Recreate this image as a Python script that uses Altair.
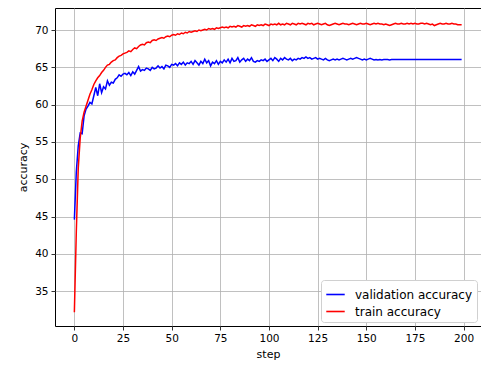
import altair as alt
import pandas as pd

steps = list(range(200))

validation = [
    44.6, 51.0, 54.5, 56.2, 56.1, 58.5, 59.4, 59.8, 60.3, 60.1,
    61.2, 62.3, 61.2, 62.8, 61.6, 62.4, 62.1, 63.2, 62.6, 63.0,
    62.9, 63.4, 63.6, 64.0, 63.8, 64.1, 64.2, 64.0, 64.3, 63.9,
    64.4, 64.1, 64.6, 65.1, 64.5, 64.7, 64.6, 64.9, 64.8, 64.6,
    65.0, 64.8, 64.9, 65.2, 64.9, 65.1, 64.8, 65.3, 65.2, 65.0,
    65.4, 65.3, 65.5, 65.2, 65.6, 65.4, 65.7, 65.3, 65.6, 65.5,
    65.8, 65.4, 65.9, 65.6, 65.3, 65.8, 65.5, 66.1, 65.6, 65.9,
    65.2, 65.7, 65.5, 65.9, 65.4, 65.8, 65.6, 66.0, 65.7, 66.1,
    65.6, 66.2, 65.8, 65.9, 66.3, 65.7, 66.0, 66.2, 65.8, 66.1,
    65.9, 66.3, 65.8, 65.7, 65.9, 65.8, 66.0, 65.9, 66.1, 65.8,
    66.0, 66.2, 65.9, 66.3, 66.1, 65.8, 66.2, 66.0, 66.3, 66.1,
    66.0, 66.2, 65.9, 66.1, 66.0, 66.2, 66.1, 66.3, 66.2, 66.4,
    66.2, 66.3, 66.1, 66.2, 66.3, 66.1, 66.2, 66.1, 66.0, 66.2,
    66.0, 65.9, 66.0, 66.1, 66.0, 66.1, 66.0, 66.1, 66.2, 66.1,
    66.0, 66.1, 66.2, 66.1, 66.2, 66.3, 66.2, 66.1, 66.0, 66.1,
    66.0, 66.1, 66.2, 66.1, 66.0, 66.05, 66.0, 66.05, 66.0, 66.05,
    66.05, 66.05, 66.0, 66.05, 66.05, 66.05, 66.05, 66.05, 66.05, 66.05,
    66.05, 66.05, 66.05, 66.05, 66.05, 66.05, 66.05, 66.05, 66.05, 66.05,
    66.05, 66.05, 66.05, 66.05, 66.05, 66.05, 66.05, 66.05, 66.05, 66.05,
    66.05, 66.05, 66.05, 66.05, 66.05, 66.05, 66.05, 66.05, 66.05, 66.05,
]

train = [
    32.2, 43.0, 51.5, 55.5, 57.8, 59.0, 59.8, 60.6, 61.4, 62.0,
    62.7, 63.2, 63.6, 63.9, 64.3, 64.6, 65.0, 65.3, 65.4, 65.7,
    65.9, 66.0, 66.3, 66.5, 66.6, 66.8, 66.9, 67.0, 67.2, 67.1,
    67.4, 67.6, 67.5, 67.8, 68.0, 68.1, 68.0, 68.3, 68.4, 68.3,
    68.6, 68.7, 68.6, 68.8, 68.9, 69.0, 68.9, 69.1, 69.2, 69.1,
    69.3, 69.4, 69.3, 69.5, 69.4, 69.6, 69.5, 69.7, 69.6, 69.8,
    69.7, 69.8, 69.9, 69.8, 70.0, 69.9, 70.0, 70.1, 70.0, 70.2,
    70.1, 70.2, 70.1, 70.3, 70.2, 70.3, 70.4, 70.3, 70.4, 70.3,
    70.5, 70.4, 70.5, 70.4, 70.6, 70.5, 70.4, 70.6, 70.5, 70.6,
    70.5, 70.7, 70.6, 70.5, 70.7, 70.6, 70.7, 70.6, 70.8, 70.7,
    70.6, 70.8, 70.7, 70.8, 70.7, 70.9, 70.7, 70.8, 70.7, 70.9,
    70.8, 70.7, 70.9, 70.8, 70.7, 70.9, 70.8, 70.9, 70.8, 70.7,
    70.9, 70.8, 70.9, 70.7, 70.8, 70.9, 70.8, 70.7, 70.8, 70.9,
    70.7, 70.6, 70.7, 70.8, 70.9, 70.8, 70.7, 70.8, 70.9, 70.8,
    70.8, 70.7, 70.8, 70.9, 70.8, 70.7, 70.8, 70.9, 70.8, 70.8,
    70.9, 70.8, 70.7, 70.8, 70.9, 70.8, 70.9, 70.8, 70.8, 70.7,
    70.8, 70.7, 70.6, 70.7, 70.8, 70.9, 70.8, 70.8, 70.9, 70.8,
    70.8, 70.9, 70.8, 70.9, 70.8, 70.9, 70.8, 70.8, 70.9, 70.9,
    70.8, 70.9, 70.8, 70.7, 70.8, 70.6, 70.7, 70.8, 70.9, 70.8,
    70.8, 70.9, 70.8, 70.8, 70.9, 70.8, 70.8, 70.7, 70.7, 70.7,
]

series_names = ["validation accuracy", "train accuracy"]
series_colors = ["#0000ff", "#ff0000"]
x_ticks = [0, 25, 50, 75, 100, 125, 150, 175, 200]
y_ticks = [35, 40, 45, 50, 55, 60, 65, 70]

df = pd.concat([
    pd.DataFrame({"step": steps, "accuracy": validation, "series": series_names[0]}),
    pd.DataFrame({"step": steps, "accuracy": train, "series": series_names[1]}),
])

font = "DejaVu Sans"

chart = alt.Chart(df).mark_line(strokeWidth=1.5).encode(
    x=alt.X("step:Q", title="step",
            scale=alt.Scale(domain=[-9.95, 208.95], nice=False, zero=False),
            axis=alt.Axis(values=x_ticks, format="d")),
    y=alt.Y("accuracy:Q", title="accuracy",
            scale=alt.Scale(domain=[30.35, 72.95], nice=False, zero=False),
            axis=alt.Axis(values=y_ticks, format="d")),
    color=alt.Color("series:N",
                    scale=alt.Scale(domain=series_names, range=series_colors),
                    sort=series_names,
                    legend=alt.Legend(title=None, orient="bottom-right",
                                      offset=4, symbolType="stroke",
                                      symbolSize=340, symbolStrokeWidth=1.6,
                                      labelFont=font, labelFontSize=12,
                                      labelColor="#000000", labelOffset=9,
                                      rowPadding=0,
                                      fillColor="#ffffff", strokeColor="#d0d0d0",
                                      cornerRadius=3, padding=4)),
    order=alt.Order("step:Q"),
).properties(
    width=426, height=318,
    autosize=alt.AutoSizeParams(type="none"),
    padding={"left": 47, "top": 0, "right": 0, "bottom": 34},
).configure_view(
    stroke="#000000", strokeWidth=1,
).configure_axis(
    labelFont=font, labelFontSize=10.5, labelColor="#000000",
    titleFont=font, titleFontSize=11, titleFontWeight="normal", titleColor="#000000",
    gridColor="#b0b0b0", gridWidth=0.8, grid=True,
    tickColor="#000000", tickSize=4, tickWidth=0.8,
    domain=False, labelPadding=3,
).configure_axisX(
    titlePadding=5,
).configure_axisY(
    titlePadding=6,
)

chart.save("out.html", embed_options={"renderer": "svg", "actions": False})
